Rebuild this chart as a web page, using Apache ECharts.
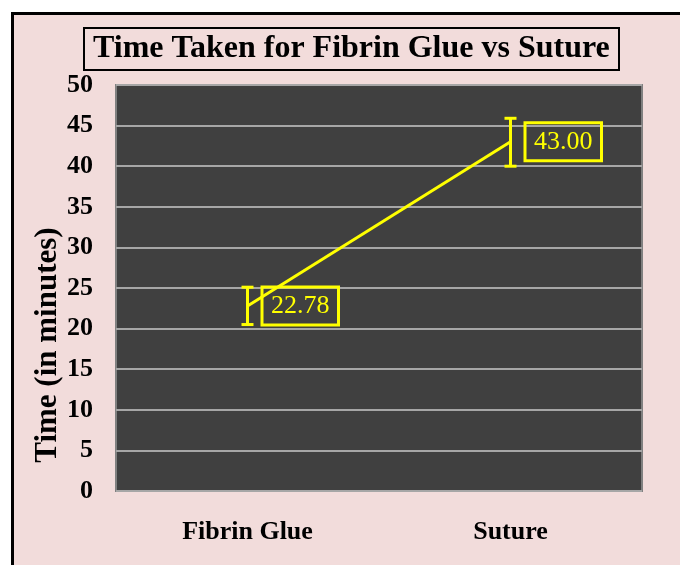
<!DOCTYPE html>
<html>
<head>
<meta charset="utf-8">
<script src="https://cdn.jsdelivr.net/npm/echarts@6/dist/echarts.min.js"></script>
<style>
html,body{margin:0;padding:0;background:#ffffff;}
#chart{width:680px;height:565px;}
</style>
</head>
<body>
<div id="chart"></div>
<script>
const categories = ['Fibrin Glue', 'Suture'];
const meanTime = [22.78, 43.00];
const errLow = [20.5, 40.0];
const errHigh = [25.1, 45.9];
const yTicks = [0, 50, 5];
const titleText = 'Time Taken for Fibrin Glue vs Suture';
const yAxisTitle = 'Time (in minutes)';

const serif = '"Liberation Serif", "Times New Roman", serif';
const chart = echarts.init(document.getElementById('chart'));

const errData = categories.map((c, i) => [i, errLow[i], errHigh[i]]);

chart.setOption({
  backgroundColor: '#ffffff',
  animation: false,
  graphic: [
    { type: 'rect', z: -10, left: 11, top: 12, shape: { width: 720, height: 600 },
      style: { fill: '#f2dcdb', stroke: '#000000', lineWidth: 3 } },
    { type: 'text', z: 10, rotation: Math.PI / 2,
      x: 48, y: 345,
      style: { text: yAxisTitle, font: 'bold 31px ' + serif, fill: '#000000',
        align: 'center', verticalAlign: 'middle' } }
  ],
  title: {
    text: titleText,
    left: 84, top: 28,
    padding: [4, 9, 4, 9],
    borderColor: '#000000', borderWidth: 2,
    textStyle: { fontFamily: serif, fontWeight: 'bold', fontSize: 32, color: '#000000', lineHeight: 34 }
  },
  grid: {
    left: 116, top: 85, right: 38, bottom: 74,
    show: true, backgroundColor: '#404040', borderColor: '#808080', borderWidth: 2
  },
  xAxis: {
    type: 'category', data: categories, boundaryGap: true,
    axisLine: { show: false }, axisTick: { show: false },
    axisLabel: { margin: 28, fontFamily: serif, fontWeight: 'bold', fontSize: 26, color: '#000000' }
  },
  yAxis: {
    type: 'value', min: yTicks[0], max: yTicks[1], interval: yTicks[2],
    axisLine: { show: false }, axisTick: { show: false },
    splitLine: { lineStyle: { color: '#a6a6a6', width: 2 } },
    axisLabel: { margin: 23, fontFamily: serif, fontWeight: 'bold', fontSize: 26, color: '#000000' }
  },
  series: [
    {
      type: 'line', data: meanTime, symbol: 'circle', symbolSize: 1, z: 3,
      itemStyle: { color: 'rgba(0,0,0,0)' },
      lineStyle: { color: '#ffff00', width: 3 },
      label: {
        show: true, position: 'right', distance: 14,
        formatter: p => p.value.toFixed(2),
        fontFamily: serif, fontSize: 26, color: '#ffff00', lineHeight: 28,
        borderColor: '#ffff00', borderWidth: 3, padding: [6, 9, 4, 9]
      }
    },
    {
      type: 'custom', data: errData, z: 4,
      renderItem: function (params, api) {
        const x = api.value(0);
        const lo = api.coord([x, api.value(1)]);
        const hi = api.coord([x, api.value(2)]);
        const hw = 6;
        const st = { stroke: '#ffff00', lineWidth: 3 };
        return { type: 'group', children: [
          { type: 'line', shape: { x1: lo[0], y1: lo[1], x2: hi[0], y2: hi[1] }, style: st },
          { type: 'line', shape: { x1: lo[0] - hw, y1: lo[1], x2: lo[0] + hw, y2: lo[1] }, style: st },
          { type: 'line', shape: { x1: hi[0] - hw, y1: hi[1], x2: hi[0] + hw, y2: hi[1] }, style: st }
        ]};
      }
    }
  ]
});
</script>
</body>
</html>
